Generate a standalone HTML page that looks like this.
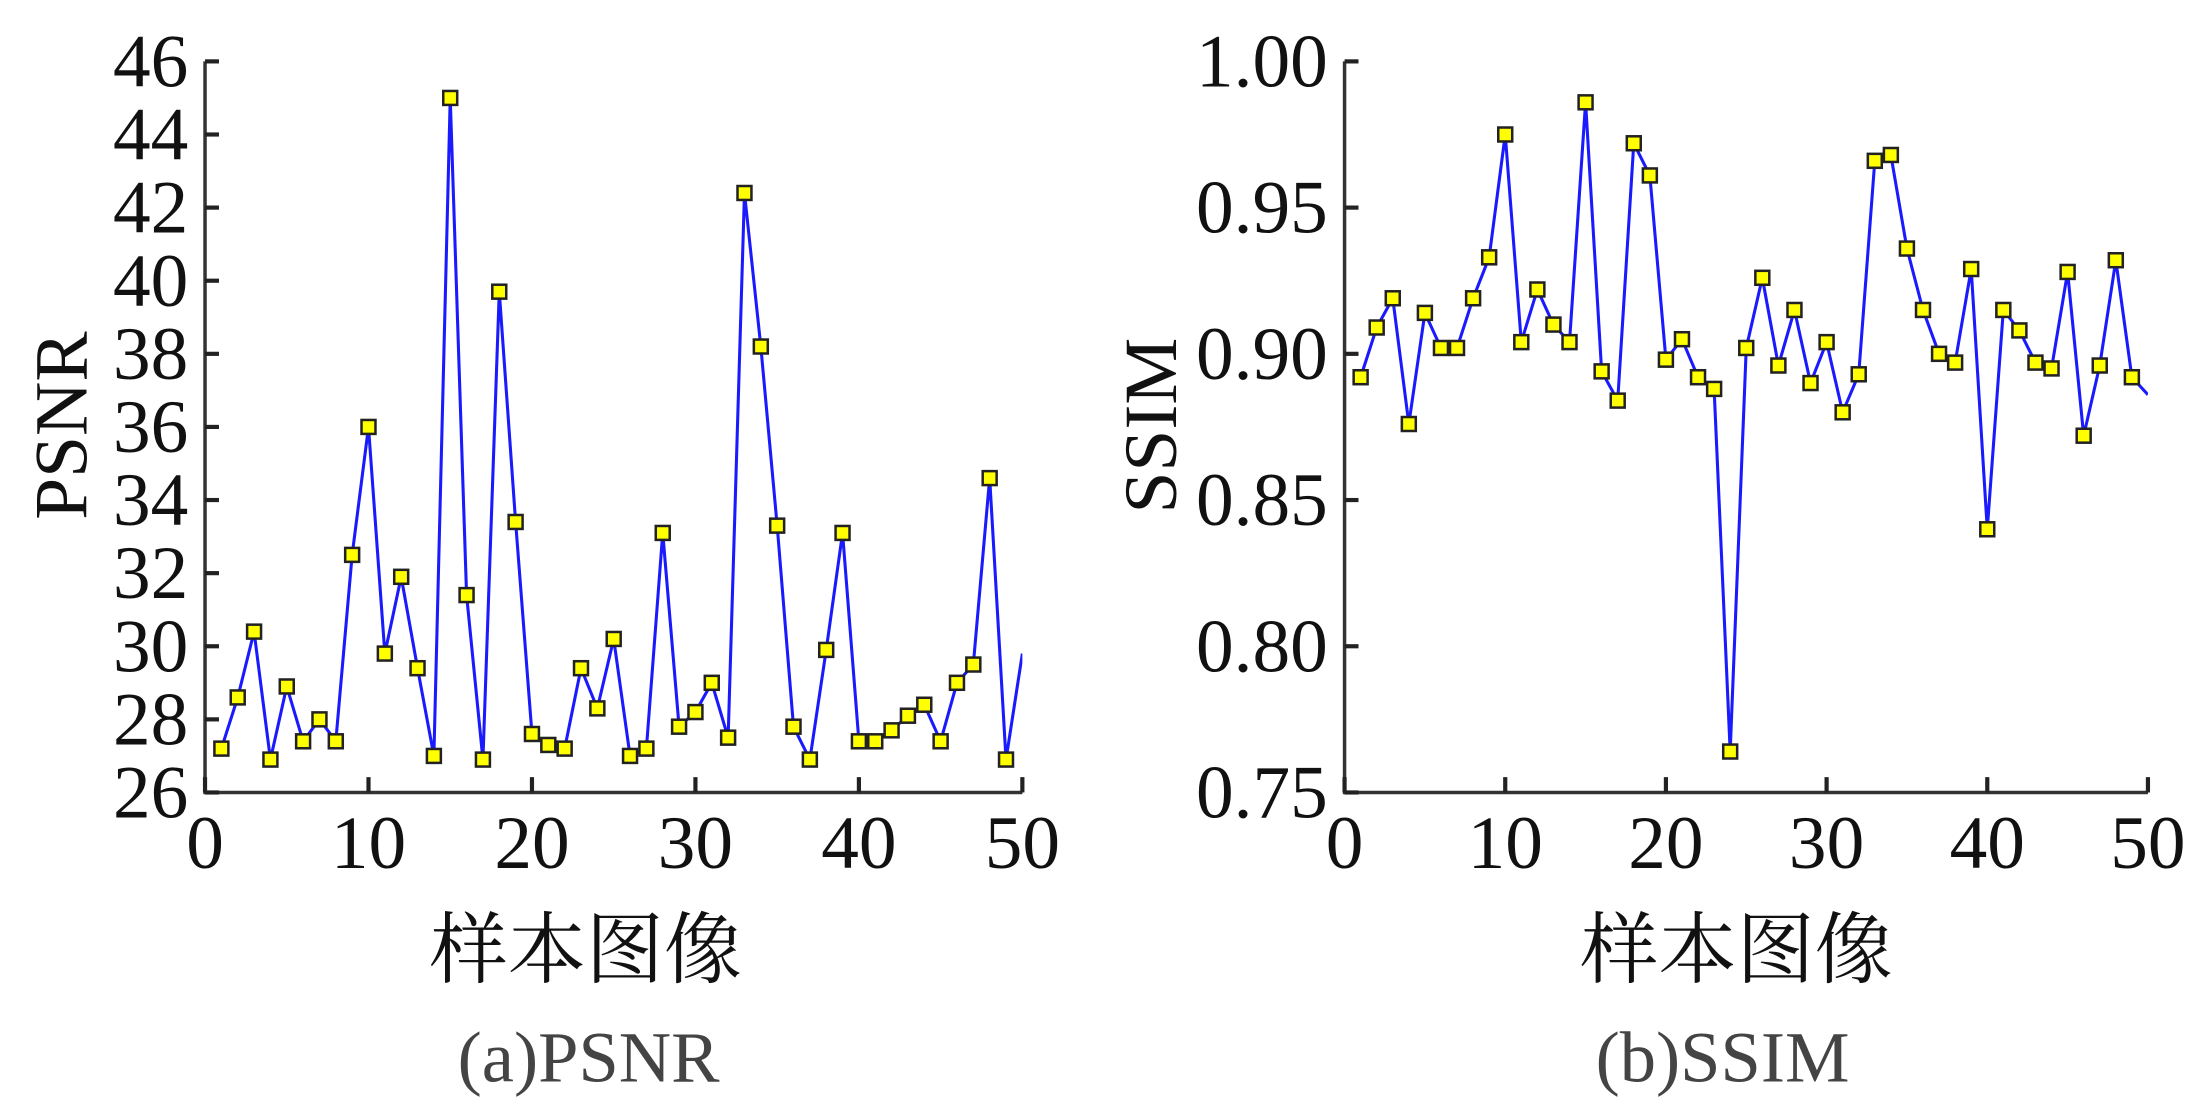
<!DOCTYPE html>
<html><head><meta charset="utf-8"><style>
html,body{margin:0;padding:0;background:#fff;}
svg{display:block;}
text{font-family:"Liberation Serif","Noto Serif CJK SC",serif;}
</style></head><body>
<svg id="chart" width="2187" height="1105" viewBox="0 0 1568 792" preserveAspectRatio="none" xmlns="http://www.w3.org/2000/svg">
<defs>
<clipPath id="clipA"><rect x="147" y="30" width="586" height="540"/></clipPath>
<clipPath id="clipB"><rect x="964" y="30" width="576" height="540"/></clipPath>
</defs>
<g id="panelA"></g>
<g id="panelB"></g>
</svg>
<script>
const sampleIdx = Array.from({length:50},(_,i)=>i+1);
const psnrValues = [27.2,28.6,30.4,26.9,28.9,27.4,28.0,27.4,32.5,36.0,29.8,31.9,29.4,27.0,45.0,31.4,26.9,39.7,33.4,27.6,27.3,27.2,29.4,28.3,30.2,27.0,27.2,33.1,27.8,28.2,29.0,27.5,42.4,38.2,33.3,27.8,26.9,29.9,33.1,27.4,27.4,27.7,28.1,28.4,27.4,29.0,29.5,34.6,26.9,29.8];
const ssimValues = [0.892,0.909,0.919,0.876,0.914,0.902,0.902,0.919,0.933,0.975,0.904,0.922,0.910,0.904,0.986,0.894,0.884,0.972,0.961,0.898,0.905,0.892,0.888,0.764,0.902,0.926,0.896,0.915,0.890,0.904,0.880,0.893,0.966,0.968,0.936,0.915,0.900,0.897,0.929,0.840,0.915,0.908,0.897,0.895,0.928,0.872,0.896,0.932,0.892,0.886];
const xTicks = [0,10,20,30,40,50];
const psnrTicks = [26,28,30,32,34,36,38,40,42,44,46];
const ssimTicks = [0.75,0.80,0.85,0.90,0.95,1.00];
const ssimTickLabels = ["0.75","0.80","0.85","0.90","0.95","1.00"];

const NS="http://www.w3.org/2000/svg";
function mk(parent,tag,attrs,txt){const e=document.createElementNS(NS,tag);for(const k in attrs)e.setAttribute(k,attrs[k]);if(txt!==undefined)e.textContent=txt;parent.appendChild(e);return e;}

function drawPanel(g, cfg){
  const {x0,x1,y0,y1,ymin,ymax,values,yTicks,yLabels,ylab,ylabX,cap,capX,titleX,clip,markerMax}=cfg;
  const sx=v=>x0+(v-0)/(50-0)*(x1-x0);
  const sy=v=>y0-(v-ymin)/(ymax-ymin)*(y0-y1);
  const ax=mk(g,'path',{d:`M${x0},${y1} L${x0},${y0} L${x1},${y0}`,fill:'none',stroke:'#333',"stroke-width":2.5});
  
  
  yTicks.forEach((t,i)=>{
    const y=sy(t);
    const tk=mk(g,'line',{x1:x0,x2:x0+10,y1:y,y2:y,stroke:'#222',"stroke-width":3});
    
    
    const tl=mk(g,'text',{x:x0-12,y:y+18,"text-anchor":"end","font-size":54,fill:'#111'},yLabels[i]);
    
    
  });
  xTicks.forEach(t=>{
    const x=sx(t);
    const tk=mk(g,'line',{x1:x,x2:x,y1:y0,y2:y0-11,stroke:'#222',"stroke-width":3});
    
    
    const tl=mk(g,'text',{x:x,y:622,"text-anchor":"middle","font-size":54,fill:'#111'},String(t));
    
    
  });
  const pts=values.map((v,i)=>`${sx(sampleIdx[i])},${sy(v)}`).join(' ');
  const ln=mk(g,'polyline',{points:pts,fill:'none',stroke:'#1a1aff',"stroke-width":2.2,"clip-path":`url(#${clip})`});
  
  
  values.forEach((v,i)=>{
    if(sampleIdx[i]>markerMax)return;
    const m=mk(g,'rect',{x:sx(sampleIdx[i])-5,y:sy(v)-5,width:10,height:10,fill:'#ffff00',stroke:'#222',"stroke-width":1.8});
    
    
  });
  const yl=mk(g,'text',{x:0,y:0,transform:`translate(${ylabX},305) rotate(-90)`,"text-anchor":"middle","font-size":54,fill:'#111'},ylab);
  
  
  const xl=mk(g,'text',{x:titleX,y:700,"text-anchor":"middle","font-size":56,fill:'#111'},'样本图像');
  
  
  const c=mk(g,'text',{x:capX,y:775,"text-anchor":"middle","font-size":52,fill:'#444'},cap);
  
  
}
drawPanel(document.getElementById('panelA'),{x0:147,x1:733,y0:568,y1:44,ymin:26,ymax:46,values:psnrValues,yTicks:psnrTicks,yLabels:psnrTicks.map(String),ylab:'PSNR',ylabX:62,cap:'(a)PSNR',capX:422,titleX:420,clip:'clipA',markerMax:49});
drawPanel(document.getElementById('panelB'),{x0:964,x1:1540,y0:568,y1:44,ymin:0.75,ymax:1.00,values:ssimValues,yTicks:ssimTicks,yLabels:ssimTickLabels,ylab:'SSIM',ylabX:843,cap:'(b)SSIM',capX:1235,titleX:1245,clip:'clipB',markerMax:49});
</script>
</body></html>
